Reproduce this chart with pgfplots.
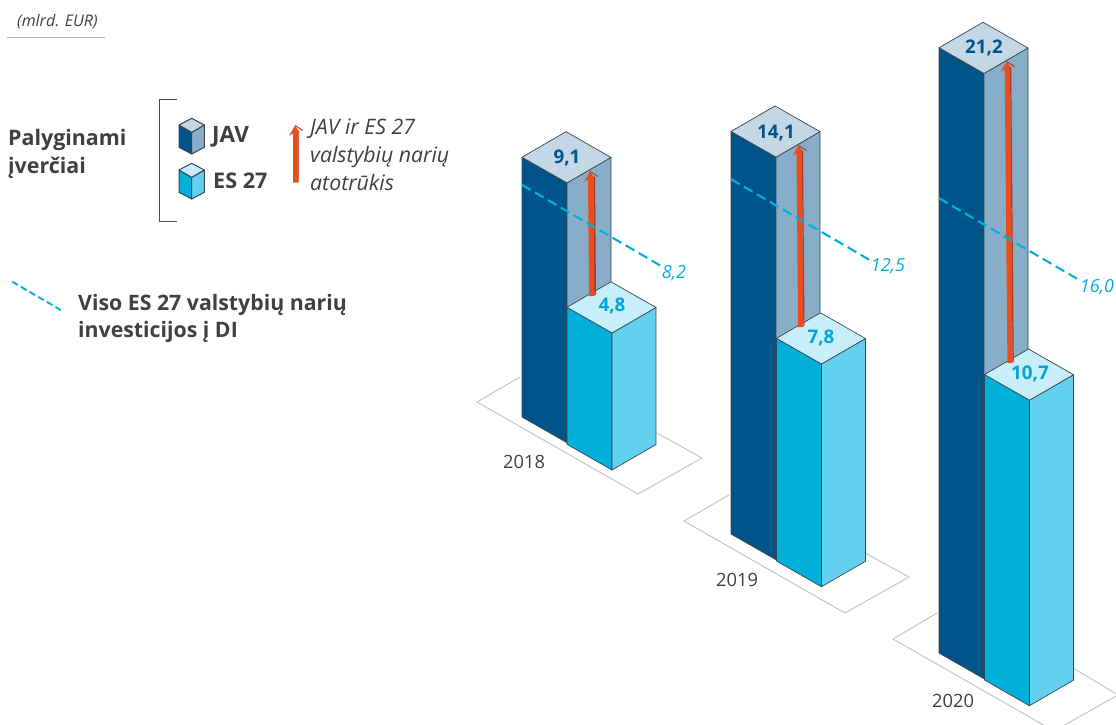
\documentclass[border=0pt]{standalone}
\usepackage{pgfplots}
\pgfplotsset{compat=1.18}
\usepackage{fontspec}
\setmainfont{Open Sans}

\definecolor{javfront}{HTML}{00548A}
\definecolor{javside}{HTML}{87ADC8}
\definecolor{javtop}{HTML}{C3D7E5}
\definecolor{esfront}{HTML}{00B0DA}
\definecolor{esside}{HTML}{63D0F0}
\definecolor{estop}{HTML}{C8EEFA}
\definecolor{edge}{HTML}{37464F}
\definecolor{floorline}{HTML}{C9C9C9}
\definecolor{dashblue}{HTML}{00AEDF}
\definecolor{valblue}{HTML}{00A3DA}
\definecolor{gaporange}{HTML}{E94E1F}
\definecolor{gapdark}{HTML}{A93A1B}
\definecolor{ink}{HTML}{404041}

% pixels of drawing height for one billion EUR
\def\pxperunit{28.55}

\newcommand{\face}[2]{%
  \addplot[fill=#1, draw=edge, line width=.7pt, line join=round] coordinates {#2} --cycle;}

% One isometric column: left x, base y, value, front, side and top colours
\newcommand{\prism}[6]{%
  \pgfmathsetmacro\hh{#3*\pxperunit}%
  \pgfmathsetmacro\xa{#1+45}\pgfmathsetmacro\xb{#1+89}\pgfmathsetmacro\xc{#1+44}%
  \pgfmathsetmacro\ya{#2+25.7}\pgfmathsetmacro\yb{#2+0.2}\pgfmathsetmacro\yc{#2-25.5}%
  \pgfmathsetmacro\yt{#2-\hh}\pgfmathsetmacro\yat{\ya-\hh}%
  \pgfmathsetmacro\ybt{\yb-\hh}\pgfmathsetmacro\yct{\yc-\hh}%
  \edef\tmp{\noexpand\face{#4}{(#1,#2)(\xa,\ya)(\xa,\yat)(#1,\yt)}}\tmp
  \edef\tmp{\noexpand\face{#5}{(\xa,\ya)(\xb,\yb)(\xb,\ybt)(\xa,\yat)}}\tmp
  \edef\tmp{\noexpand\face{#6}{(#1,\yt)(\xa,\yat)(\xb,\ybt)(\xc,\yct)}}\tmp
}

% EU-wide total: left x, base y, value
\newcommand{\totalline}[3]{%
  \pgfmathsetmacro\ys{#2-#3*\pxperunit}%
  \pgfmathsetmacro\xe{#1+138}\pgfmathsetmacro\ye{\ys+80.5}%
  \edef\tmp{\noexpand\addplot[dashblue, line width=2.1pt, dash pattern=on 10pt off 5pt] coordinates {(#1,\ys)(\xe,\ye)};}\tmp
}

% Gap arrow: bottom x, bottom y, tip x, tip y, shade width
\newcommand{\gaparrow}[5]{%
  \pgfmathsetmacro\sla{#1-2.6}\pgfmathsetmacro\sra{#1+2.6}\pgfmathsetmacro\sda{#1+2.6+#5}%
  \pgfmathsetmacro\slb{#3-2}\pgfmathsetmacro\srb{#3+3.3}\pgfmathsetmacro\sdb{#3+3.3+#5}%
  \pgfmathsetmacro\tya{#4+8}\pgfmathsetmacro\tyb{#4+5}\pgfmathsetmacro\byd{#2-2}%
  \pgfmathsetmacro\hl{#3-5.8}\pgfmathsetmacro\hy{#4+10}\pgfmathsetmacro\hr{#3+8}%
  \edef\tmp{\noexpand\addplot[fill=gapdark, draw=none] coordinates {(\srb,\tyb)(\sdb,\tyb)(\sda,\byd)(\sra,#2)} --cycle;}\tmp
  \edef\tmp{\noexpand\addplot[fill=gaporange, draw=none] coordinates {(\slb,\tya)(\srb,\tyb)(\sra,#2)(\sla,#2)} --cycle;}\tmp
  \edef\tmp{\noexpand\addplot[fill=gaporange, draw=none] coordinates {(#3,#4)(\srb,\tyb)(\srb,\tya)(\slb,\tya)(\hl,\hy)} --cycle;}\tmp
  \edef\tmp{\noexpand\addplot[gapdark, line width=.9pt] coordinates {(#3,#4)(\hr,\tyb)};}\tmp
}

% Small legend cube: left x, y of the upper left corner, three colours
\newcommand{\cube}[5]{%
  \pgfmathsetmacro\xa{#1+12.7}\pgfmathsetmacro\xb{#1+25.3}%
  \pgfmathsetmacro\ya{#2+7.3}\pgfmathsetmacro\yb{#2+29}\pgfmathsetmacro\yc{#2+22.3}\pgfmathsetmacro\yd{#2-6.7}%
  \edef\tmp{\noexpand\addplot[fill=#3, draw=edge, line width=1pt, line join=round] coordinates {(#1,#2)(\xa,\ya)(\xa,\yb)(#1,\yc)} --cycle;}\tmp
  \edef\tmp{\noexpand\addplot[fill=#4, draw=edge, line width=1pt, line join=round] coordinates {(\xa,\ya)(\xb,#2)(\xb,\yc)(\xa,\yb)} --cycle;}\tmp
  \edef\tmp{\noexpand\addplot[fill=#5, draw=edge, line width=1pt, line join=round] coordinates {(#1,#2)(\xa,\ya)(\xb,#2)(\xa,\yd)} --cycle;}\tmp
}

\newcommand{\txt}[4]{\node[anchor=base west, inner sep=0pt, text=#3] at (axis cs:#1,#2) {#4};}
\newcommand{\val}[4]{\node[anchor=center, inner sep=0pt, text=#3] at (axis cs:#1,#2) {\fontsize{18.8}{20}\selectfont\bfseries #4};}
\newcommand{\tot}[3]{\node[anchor=center, inner sep=0pt, text=dashblue] at (axis cs:#1,#2) {\fontsize{18}{20}\selectfont\itshape #3};}

\begin{document}
\begin{tikzpicture}
\begin{axis}[
  name=canvas,
  scale only axis, width=1116pt, height=724pt,
  xmin=0, xmax=1116, ymin=0, ymax=724, y dir=reverse,
  hide axis, clip=true,
]
% floor outlines
\addplot[floorline, line width=1.1pt] coordinates {(520,377)(477,402)(638,494)(702,458)(657,433)};
\addplot[floorline, line width=1.1pt] coordinates {(729,495)(684,521)(845,613)(909,577)(865,553)};
\addplot[floorline, line width=1.1pt] coordinates {(937,613)(893,639)(1054,731)(1118,695)(1073,668)};

% 2018
\prism{522}{417}{9.1}{javfront}{javside}{javtop}
\prism{567}{444.3}{4.8}{esfront}{esside}{estop}
\gaparrow{591.7}{296}{590}{171.5}{1.7}
\totalline{522}{419}{8.2}
% 2019
\prism{731}{534}{14.1}{javfront}{javside}{javtop}
\prism{776.5}{561}{7.8}{esfront}{esside}{estop}
\gaparrow{800.7}{327}{798.5}{145.5}{1.2}
\totalline{731}{536}{12.5}
% 2020
\prism{939}{653}{21.2}{javfront}{javside}{javtop}
\prism{984.5}{680}{10.7}{esfront}{esside}{estop}
\gaparrow{1010}{363}{1006.7}{61.5}{1.2}
\totalline{939}{655}{16.0}

% legend marks
\addplot[gray!60!black, line width=.9pt] coordinates {(177.3,99)(159.3,99)(159.3,221)(177.3,221)};
\cube{179}{125}{javfront}{javside}{javtop}
\cube{179}{170}{esfront}{esside}{estop}
\gaparrow{295.7}{182.7}{295}{125.5}{.8}
\addplot[dashblue, line width=1.9pt, dash pattern=on 6.5pt off 3.5pt] coordinates {(12.3,281.7)(60.7,310)};
\addplot[black!30, line width=1.1pt] coordinates {(7,37.3)(105,37.3)};

% texts
\txt{17}{26}{ink}{\fontsize{16}{18}\selectfont\itshape (mlrd. EUR)}
\txt{8}{145}{ink}{\fontsize{21.4}{24}\selectfont\bfseries Palyginami}
\txt{8}{173.3}{ink}{\fontsize{21.4}{24}\selectfont\bfseries įverčiai}
\txt{212}{142.7}{ink}{\fontsize{22.5}{24}\selectfont\bfseries JAV}
\txt{213}{188.3}{ink}{\fontsize{21.6}{24}\selectfont\bfseries ES 27}
\txt{310}{134}{ink}{\fontsize{21.3}{24}\selectfont\itshape JAV ir ES 27}
\txt{310}{162.7}{ink}{\fontsize{21.3}{24}\selectfont\itshape valstybių narių}
\txt{310}{190.7}{ink}{\fontsize{21.3}{24}\selectfont\itshape atotrūkis}
\txt{78}{310}{ink}{\fontsize{21.3}{24}\selectfont\bfseries Viso ES 27 valstybių narių}
\txt{78}{337.7}{ink}{\fontsize{21.3}{24}\selectfont\bfseries investicijos į DI}

\txt{503}{468}{ink}{\fontsize{18.3}{20}\selectfont 2018}
\txt{716}{586}{ink}{\fontsize{18.3}{20}\selectfont 2019}
\txt{932}{707}{ink}{\fontsize{18.3}{20}\selectfont 2020}

\val{567}{158}{javfront}{9,1}
\val{612}{306}{valblue}{4,8}
\val{776}{133}{javfront}{14,1}
\val{821}{338}{valblue}{7,8}
\val{984}{48}{javfront}{21,2}
\val{1030}{374}{valblue}{10,7}

\tot{674}{273}{8,2}
\tot{888}{266}{12,5}
\tot{1097}{287}{16,0}
\end{axis}
% the page is exactly the drawing area
\pgfresetboundingbox
\path[use as bounding box] (canvas.south west) rectangle (canvas.north east);
\end{tikzpicture}
\end{document}
